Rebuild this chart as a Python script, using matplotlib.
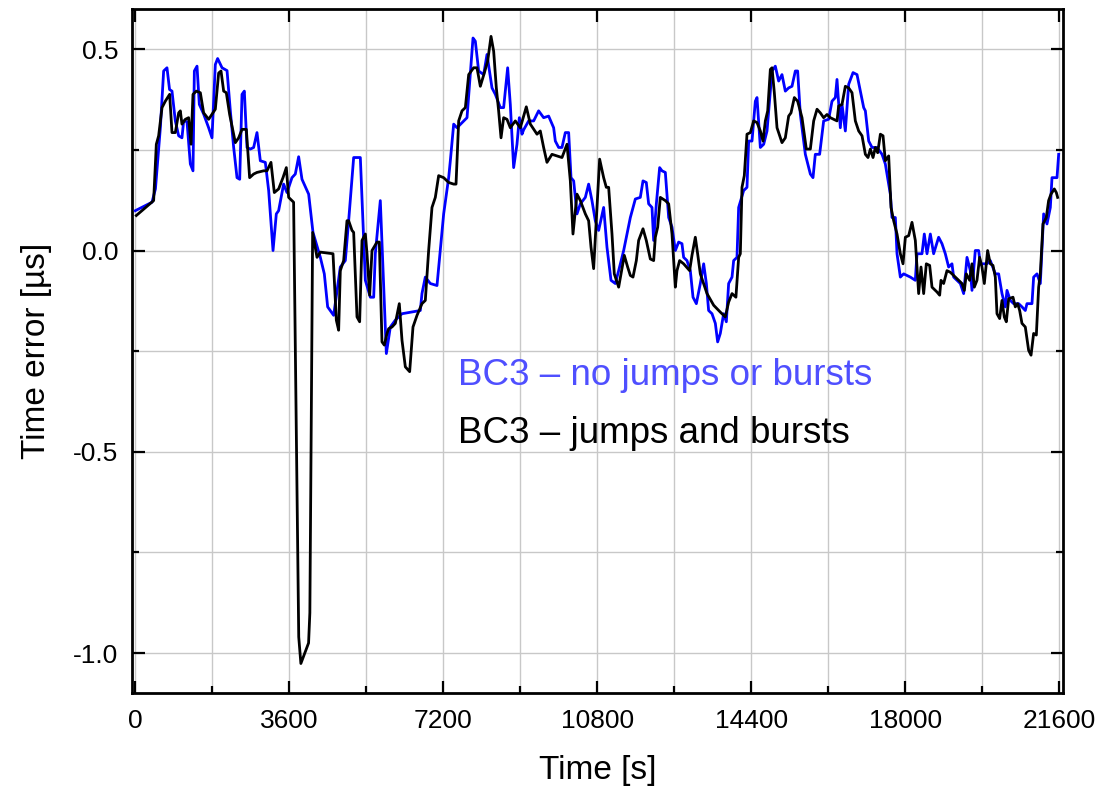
# -*- coding: utf-8 -*-
"""
BC3 时间误差曲线（有/无跳变和突发）
"""

import matplotlib
matplotlib.use('Agg')
import matplotlib.pyplot as plt
from matplotlib.ticker import MultipleLocator

# 无跳变/突发  (时间 s, 时间误差 us)
t_blue = [0, 390, 470, 585, 662, 740, 800, 857, 935, 1013, 1090, 1130, 1208, 1286, 1348, 1380,
          1442, 1496, 1597, 1714, 1792, 1870, 1924, 2027, 2144, 2221, 2299, 2377, 2440, 2494,
          2548, 2611, 2688, 2766, 2844, 2922, 3039, 3117, 3219, 3296, 3350, 3467, 3545, 3662,
          3740, 3818, 3896, 4052, 4153, 4325, 4418, 4496, 4636, 4792, 4909, 4987, 5104, 5260,
          5377, 5494, 5572, 5610, 5727, 5868, 5961, 6078, 6234, 6662, 6701, 6779, 6896, 7052,
          7208, 7325, 7364, 7442, 7520, 7754, 7831, 7894, 7948, 8026, 8143, 8221, 8338, 8416,
          8533, 8610, 8704, 8766, 8844, 8922, 8977, 9039, 9078, 9195, 9312, 9428, 9545, 9662,
          9779, 9818, 9896, 9974, 10052, 10130, 10185, 10247, 10325, 10403, 10520, 10597,
          10675, 10753, 10831, 10948, 11026, 11120, 11221, 11299, 11416, 11494, 11572, 11689,
          11805, 11868, 11945, 12000, 12078, 12117, 12180, 12257, 12312, 12390, 12468, 12546,
          12624, 12701, 12779, 12818, 12896, 12974, 13037, 13115, 13208, 13286, 13349, 13402,
          13481, 13559, 13613, 13675, 13753, 13816, 13870, 13949, 13987, 14065, 14104, 14221,
          14299, 14338, 14416, 14494, 14533, 14611, 14689, 14767, 14884, 14961, 15039, 15117,
          15195, 15273, 15351, 15429, 15483, 15546, 15663, 15780, 15842, 15896, 15997, 16091,
          16208, 16286, 16364, 16403, 16481, 16520, 16598, 16676, 16778, 16871, 17027, 17066,
          17144, 17222, 17339, 17456, 17533, 17650, 17689, 17767, 17806, 17884, 17961, 18117,
          18234, 18273, 18390, 18444, 18507, 18585, 18662, 18779, 18857, 18935, 19013, 19091,
          19130, 19286, 19364, 19442, 19520, 19559, 19636, 19714, 19753, 19909, 19987, 20104,
          20182, 20260, 20338, 20377, 20455, 20532, 20649, 20727, 20805, 20844, 20961, 21000,
          21078, 21156, 21234, 21312, 21390, 21429, 21546, 21585]
te_blue = [0.099, 0.12, 0.153, 0.305, 0.446, 0.454, 0.40, 0.396, 0.322, 0.285, 0.28, 0.322, 0.32,
           0.215, 0.198, 0.446, 0.458, 0.363, 0.339, 0.305, 0.28, 0.462, 0.477, 0.454, 0.447,
           0.347, 0.256, 0.181, 0.177, 0.388, 0.396, 0.256, 0.252, 0.256, 0.293, 0.223, 0.219,
           0.149, 0.0, 0.091, 0.099, 0.165, 0.144, 0.181, 0.19, 0.233, 0.177, 0.14, 0.045,
           -0.017, -0.058, -0.14, -0.161, -0.041, -0.025, 0.074, 0.231, 0.231, -0.074, -0.116,
           -0.116, -0.008, 0.124, -0.256, -0.19, -0.173, -0.157, -0.149, -0.107, -0.066, -0.082,
           -0.087, 0.091, 0.181, 0.223, 0.314, 0.305, 0.33, 0.437, 0.528, 0.52, 0.446, 0.437,
           0.487, 0.404, 0.388, 0.355, 0.355, 0.454, 0.363, 0.206, 0.264, 0.33, 0.289, 0.30,
           0.322, 0.322, 0.347, 0.33, 0.334, 0.305, 0.272, 0.256, 0.256, 0.293, 0.293, 0.181,
           0.173, 0.091, 0.116, 0.132, 0.165, 0.124, 0.074, 0.05, 0.107, 0.008, -0.074, -0.082,
           -0.05, 0.0, 0.041, 0.082, 0.128, 0.132, 0.173, 0.169, 0.116, 0.107, 0.025, 0.116,
           0.206, 0.198, 0.194, 0.082, 0.058, 0.0, 0.021, 0.017, -0.017, -0.025, -0.05, -0.116,
           -0.132, -0.082, -0.033, -0.082, -0.149, -0.157, -0.181, -0.227, -0.206, -0.157,
           -0.177, -0.082, -0.066, -0.025, -0.017, 0.107, 0.149, 0.157, 0.272, 0.272, 0.371,
           0.38, 0.256, 0.264, 0.297, 0.446, 0.458, 0.421, 0.437, 0.396, 0.404, 0.408, 0.446,
           0.446, 0.338, 0.239, 0.19, 0.181, 0.239, 0.239, 0.322, 0.326, 0.371, 0.38, 0.425,
           0.305, 0.363, 0.297, 0.413, 0.442, 0.437, 0.355, 0.347, 0.272, 0.256, 0.256, 0.239,
           0.215, 0.14, 0.082, 0.082, -0.008, -0.066, -0.058, -0.066, -0.074, -0.008, -0.008,
           0.041, -0.008, 0.041, -0.008, 0.033, 0.017, -0.008, -0.041, -0.033, -0.066, -0.082,
           -0.107, -0.017, -0.05, -0.099, 0.0, 0.0, -0.033, -0.033, -0.025, -0.058, -0.058,
           -0.107, -0.14, -0.099, -0.124, -0.132, -0.132, -0.14, -0.149, -0.132, -0.132, -0.066,
           -0.058, -0.082, 0.091, 0.066, 0.107, 0.181, 0.181, 0.239]

# 有跳变和突发
t_black = [23, 428, 491, 545, 624, 701, 802, 857, 935, 1013, 1052, 1090, 1169, 1246, 1302, 1348,
           1426, 1520, 1597, 1714, 1870, 1948, 2003, 2065, 2127, 2205, 2338, 2416, 2494, 2595,
           2672, 2766, 2844, 2999, 3078, 3171, 3249, 3350, 3452, 3530, 3584, 3662, 3700, 3820,
           3870, 4050, 4080, 4145, 4247, 4325, 4621, 4699, 4753, 4792, 4870, 4948, 4987, 5065,
           5104, 5182, 5244, 5299, 5377, 5416, 5478, 5533, 5650, 5704, 5766, 5821, 5883, 5922,
           6000, 6078, 6171, 6234, 6312, 6413, 6491, 6585, 6701, 6779, 6857, 6935, 7013, 7091,
           7208, 7325, 7442, 7497, 7559, 7637, 7715, 7793, 7909, 7987, 8065, 8158, 8236, 8315,
           8377, 8439, 8493, 8549, 8610, 8688, 8766, 8883, 9000, 9140, 9234, 9390, 9467, 9545,
           9623, 9740, 9974, 10091, 10169, 10231, 10325, 10403, 10520, 10597, 10653, 10714,
           10776, 10854, 10948, 11010, 11065, 11143, 11197, 11299, 11431, 11509, 11572, 11634,
           11712, 11766, 11868, 11945, 12039, 12117, 12156, 12211, 12273, 12390, 12468, 12546,
           12624, 12662, 12724, 12818, 12958, 13013, 13091, 13145, 13208, 13364, 13520, 13675,
           13792, 13870, 13949, 14040, 14104, 14143, 14182, 14236, 14299, 14377, 14455, 14533,
           14611, 14673, 14728, 14783, 14845, 14884, 14938, 15001, 15063, 15117, 15195, 15273,
           15328, 15406, 15483, 15585, 15686, 15780, 15858, 15936, 16013, 16091, 16169, 16247,
           16325, 16403, 16442, 16520, 16598, 16676, 16754, 16832, 16910, 16988, 17066, 17128,
           17183, 17245, 17300, 17354, 17417, 17479, 17533, 17611, 17666, 17728, 17806, 17884,
           17946, 18001, 18079, 18156, 18234, 18312, 18367, 18429, 18491, 18569, 18624, 18740,
           18803, 18834, 18896, 18974, 19052, 19169, 19325, 19380, 19426, 19504, 19559, 19613,
           19675, 19737, 19792, 19847, 19924, 19987, 20049, 20104, 20143, 20205, 20260, 20314,
           20361, 20416, 20517, 20571, 20626, 20673, 20727, 20805, 20883, 20939, 21000, 21063,
           21117, 21156, 21218, 21296, 21350, 21405, 21483, 21530, 21561]
te_black = [0.087, 0.124, 0.264, 0.285, 0.355, 0.371, 0.388, 0.293, 0.293, 0.342, 0.347, 0.314,
            0.326, 0.33, 0.264, 0.388, 0.396, 0.392, 0.342, 0.326, 0.351, 0.441, 0.446, 0.396,
            0.392, 0.338, 0.268, 0.28, 0.301, 0.301, 0.181, 0.19, 0.194, 0.198, 0.198, 0.219,
            0.144, 0.153, 0.181, 0.206, 0.132, 0.124, 0.12, -0.96, -1.026, -0.975, -0.9, 0.045,
            -0.017, -0.004, -0.008, -0.173, -0.198, -0.05, -0.025, 0.074, 0.074, 0.05, 0.045,
            -0.165, -0.177, 0.025, 0.041, -0.008, -0.111, 0.0, 0.021, 0.021, -0.227, -0.235,
            -0.206, -0.194, -0.19, -0.181, -0.132, -0.223, -0.289, -0.301, -0.19, -0.161, -0.132,
            -0.124, 0.0, 0.107, 0.132, 0.186, 0.181, 0.169, 0.165, 0.165, 0.322, 0.347, 0.355,
            0.437, 0.454, 0.454, 0.408, 0.441, 0.47, 0.532, 0.495, 0.404, 0.347, 0.28, 0.33,
            0.326, 0.305, 0.322, 0.305, 0.357, 0.314, 0.289, 0.297, 0.256, 0.219, 0.239, 0.231,
            0.264, 0.173, 0.041, 0.14, 0.124, 0.091, 0.074, 0.008, -0.045, 0.074, 0.227, 0.181,
            0.157, 0.157, 0.041, -0.058, -0.091, -0.012, -0.041, -0.062, -0.066, -0.025, 0.025,
            0.054, 0.025, -0.021, -0.025, 0.033, 0.058, 0.132, 0.124, 0.116, 0.041, -0.091,
            -0.05, -0.025, -0.033, -0.05, -0.012, 0.033, -0.008, -0.058, -0.107, -0.136, -0.153,
            -0.165, -0.128, -0.107, -0.116, -0.017, -0.008, 0.157, 0.186, 0.289, 0.293, 0.322,
            0.318, 0.297, 0.272, 0.322, 0.347, 0.45, 0.454, 0.392, 0.305, 0.285, 0.268, 0.28,
            0.334, 0.342, 0.38, 0.371, 0.33, 0.252, 0.252, 0.322, 0.351, 0.342, 0.33, 0.338,
            0.33, 0.326, 0.322, 0.359, 0.363, 0.408, 0.404, 0.392, 0.322, 0.297, 0.285, 0.239,
            0.231, 0.252, 0.231, 0.256, 0.243, 0.289, 0.285, 0.223, 0.235, 0.107, 0.074, 0.041,
            -0.008, -0.033, 0.033, 0.037, 0.07, 0.025, -0.107, -0.041, -0.107, -0.033, -0.037,
            -0.091, -0.103, -0.111, -0.074, -0.082, -0.05, -0.054, -0.066, -0.082, -0.099,
            -0.058, -0.074, -0.033, -0.091, -0.074, -0.017, -0.041, -0.082, 0.0, -0.033, -0.037,
            -0.066, -0.157, -0.169, -0.124, -0.165, -0.177, -0.12, -0.116, -0.14, -0.132, -0.149,
            -0.181, -0.19, -0.248, -0.26, -0.206, -0.21, -0.091, -0.058, 0.066, 0.082, 0.124,
            0.14, 0.153, 0.144, 0.132]

x_ticks = [0, 3600, 7200, 10800, 14400, 18000, 21600]
y_ticks = [-1.0, -0.5, 0.0, 0.5]
label_blue = 'BC3 – no jumps or bursts'
label_black = 'BC3 – jumps and bursts'


def viewer():
    """
    画两条时间误差曲线
    """
    plt.rcParams['font.family'] = ['Liberation Sans', 'DejaVu Sans']
    plt.rcParams['axes.unicode_minus'] = False

    fig = plt.figure(figsize=(10.99, 7.90), dpi=100)
    ax = fig.add_axes([0.1201, 0.1224, 0.8469, 0.8662])

    ax.plot(t_blue, te_blue, color='#0000ff', lw=2.0, zorder=3)
    ax.plot(t_black, te_black, color='black', lw=2.0, zorder=4)

    ax.set_xlim(-78, 21680)
    ax.set_ylim(-1.1, 0.6)
    ax.set_xticks(x_ticks)
    ax.set_yticks(y_ticks)
    ax.xaxis.set_minor_locator(MultipleLocator(1800))
    ax.yaxis.set_minor_locator(MultipleLocator(0.25))
    ax.set_yticklabels(['%.1f' % v for v in y_ticks])

    ax.grid(True, which='both', color='#c8c8c8', lw=1.0, zorder=0)
    ax.set_axisbelow(True)

    # 刻度朝内，上边只有主刻度
    ax.tick_params(which='major', direction='in', length=9, width=1.6, labelsize=19,
                   top=True, right=True)
    ax.tick_params(which='minor', direction='in', length=5, width=1.6, right=True, top=False)
    ax.tick_params(axis='x', which='major', pad=11)
    ax.tick_params(axis='y', which='major', pad=10)
    for sp in ax.spines.values():
        sp.set_linewidth(2.0)

    ax.set_xlabel('Time [s]', fontsize=24, labelpad=16)
    ax.set_ylabel('Time error [µs]', fontsize=24, labelpad=15)

    ax.text(7545, -0.333, label_blue, color='#4f4fff', fontsize=26.5, va='baseline')
    ax.text(7545, -0.478, label_black, color='black', fontsize=26.5, va='baseline')

    fig.savefig('out.png', dpi=100)


if __name__ == "__main__":
    viewer()
